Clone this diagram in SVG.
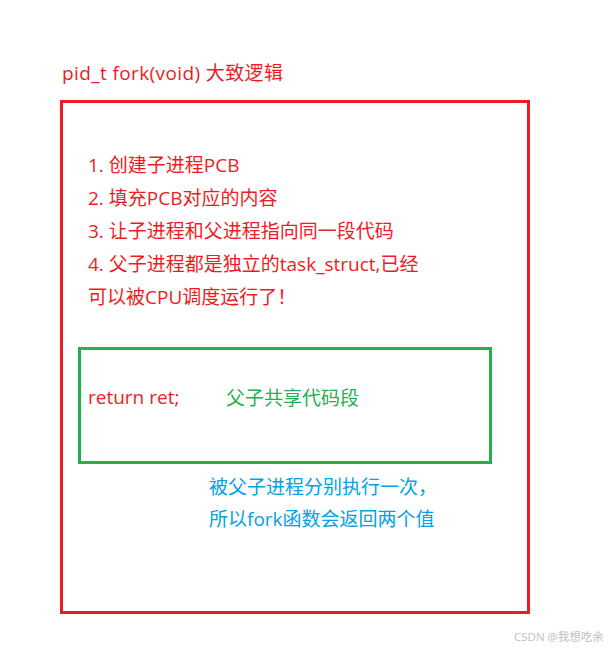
<svg xmlns="http://www.w3.org/2000/svg" width="610" height="650" viewBox="0 0 610 650">
<style>
text{font-family:"Open Sans","Noto Sans CJK SC",sans-serif;font-size:19px}
.r{fill:#ed1c24}
.g{fill:#22b14c}
.b{fill:#00a2e8}
.w{fill:#c0c0c0;font-size:11.5px}
</style>
<rect width="610" height="650" fill="#fff"/>
<g id="title"><text class="r" x="62" y="80" textLength="221">pid_t fork(void) 大致逻辑</text></g>
<g id="outer">
<rect x="61.5" y="101.5" width="467" height="511" fill="none" stroke="#ed1c24" stroke-width="3"/>
<text class="r" x="88" y="172">1. 创建子进程PCB</text>
<text class="r" x="88" y="205">2. 填充PCB对应的内容</text>
<text class="r" x="88" y="238">3. 让子进程和父进程指向同一段代码</text>
<text class="r" x="88" y="271">4. 父子进程都是独立的task_struct,已经</text>
<text class="r" x="88" y="304">可以被CPU调度运行了！</text>
</g>
<g id="code">
<rect x="79.5" y="348.5" width="411" height="114" fill="none" stroke="#22b14c" stroke-width="3"/>
<text class="r" x="88" y="404">return ret;</text>
<text class="g" x="226" y="405">父子共享代码段</text>
</g>
<g id="note">
<text class="b" x="209" y="494">被父子进程分别执行一次，</text>
<text class="b" x="209" y="526">所以fork函数会返回两个值</text>
</g>
<g id="connectors"></g>
<text class="w" x="514" y="641">CSDN @我想吃余</text>
</svg>
